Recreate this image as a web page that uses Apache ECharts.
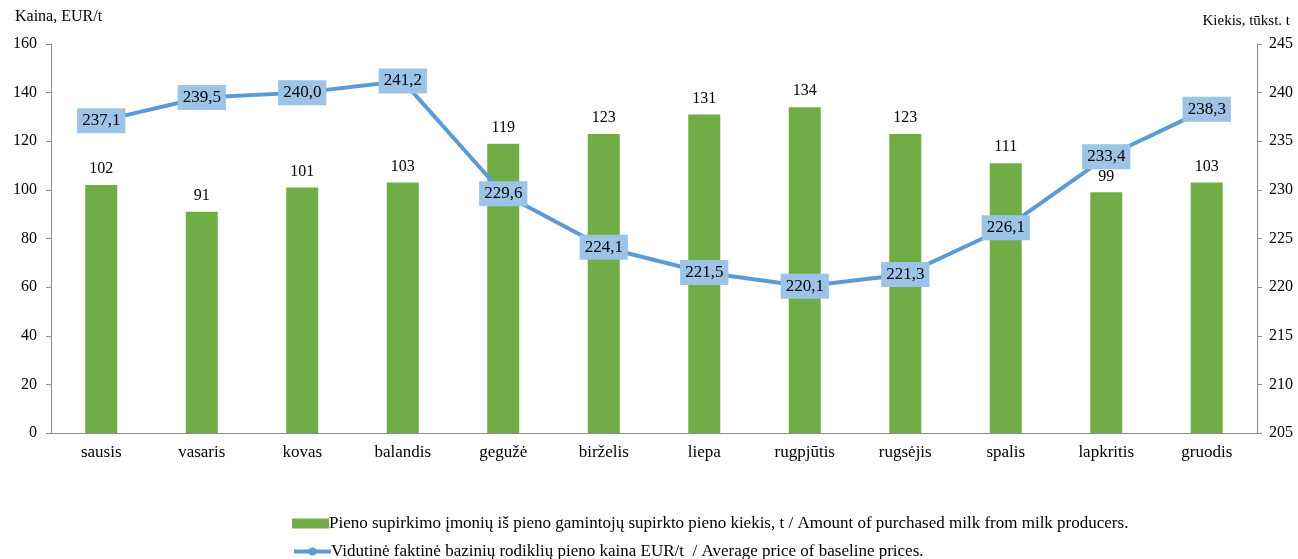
<!DOCTYPE html>
<html><head><meta charset="utf-8">
<script src="https://cdn.jsdelivr.net/npm/echarts@6/dist/echarts.min.js"></script>
<style>html,body{margin:0;padding:0;background:#fff}#c{width:1298px;height:559px}</style>
</head><body><div id="c"></div>
<script>
const categories = ['sausis','vasaris','kovas','balandis','gegužė','birželis','liepa','rugpjūtis','rugsėjis','spalis','lapkritis','gruodis'];
const milkAmount = [102, 91, 101, 103, 119, 123, 131, 134, 123, 111, 99, 103];
const avgPrice = [237.1, 239.5, 240.0, 241.2, 229.6, 224.1, 221.5, 220.1, 221.3, 226.1, 233.4, 238.3];
const leftTicks = [0, 20, 40, 60, 80, 100, 120, 140, 160];
const rightTicks = [205, 210, 215, 220, 225, 230, 235, 240, 245];
const barName = 'Pieno supirkimo įmonių iš pieno gamintojų supirkto pieno kiekis, t / Amount of purchased milk from milk producers.';
const lineName = 'Vidutinė faktinė bazinių rodiklių pieno kaina EUR/t  / Average price of baseline prices.';
const font = 'Liberation Serif, Times New Roman, serif';
const legendText = {fontFamily: font, fontSize: 17, color: '#000', padding: [0,0,0,-5]};
const chart = echarts.init(document.getElementById('c'));
chart.setOption({
  animation: false,
  textStyle: {fontFamily: font, color: '#000'},
  grid: {left: 51, right: 41, top: 44, bottom: 126},
  legend: [{
    left: 287, top: 510, itemWidth: 37, itemHeight: 10,
    textStyle: legendText,
    data: [{name: barName, icon: 'rect'}]
  }, {
    left: 287, top: 538, itemWidth: 37, itemHeight: 10,
    textStyle: legendText,
    data: [{name: lineName, lineStyle: {width: 4, color: '#5B9BD5'}}]
  }],
  xAxis: {
    type: 'category', data: categories,
    axisLine: {lineStyle: {color: '#8c8c8c', width: 1}},
    axisTick: {show: false},
    axisLabel: {fontFamily: font, fontSize: 17, color: '#000', margin: 11}
  },
  yAxis: [{
    type: 'value', min: leftTicks[0], max: leftTicks[leftTicks.length-1], interval: 20,
    name: 'Kaina, EUR/t', nameLocation: 'end', nameGap: 19,
    nameTextStyle: {fontFamily: font, fontSize: 16, color: '#000', align: 'left', padding: [0,0,0,-36]},
    axisLine: {show: true, lineStyle: {color: '#8c8c8c'}},
    axisTick: {show: true, length: 5, lineStyle: {color: '#8c8c8c'}},
    splitLine: {show: false},
    axisLabel: {fontFamily: font, fontSize: 16, color: '#000', margin: 14}
  }, {
    type: 'value', min: rightTicks[0], max: rightTicks[rightTicks.length-1], interval: 5,
    name: 'Kiekis, tūkst. t', nameLocation: 'end', nameGap: 15,
    nameTextStyle: {fontFamily: font, fontSize: 15, color: '#000', align: 'right', padding: [0,-33,0,0]},
    axisLine: {show: true, lineStyle: {color: '#8c8c8c'}},
    axisTick: {show: true, length: 5, lineStyle: {color: '#8c8c8c'}},
    splitLine: {show: false},
    axisLabel: {fontFamily: font, fontSize: 16, color: '#000', margin: 12}
  }],
  series: [{
    name: barName, type: 'bar', yAxisIndex: 0, data: milkAmount, barWidth: 32,
    itemStyle: {color: '#70AD47'},
    label: {show: true, position: 'top', distance: 8, fontFamily: font, fontSize: 16, color: '#000'}
  }, {
    name: lineName, type: 'line', yAxisIndex: 1, data: avgPrice,
    symbol: 'circle', symbolSize: 9,
    lineStyle: {color: '#5B9BD5', width: 4},
    itemStyle: {color: '#5B9BD5'},
    label: {show: true, position: 'inside', fontFamily: font, fontSize: 17, color: '#000',
      backgroundColor: '#9DC3E6', padding: [5, 5, 3, 5],
      formatter: p => p.value.toFixed(1).replace('.', ',')},
    z: 5
  }]
});
</script></body></html>
